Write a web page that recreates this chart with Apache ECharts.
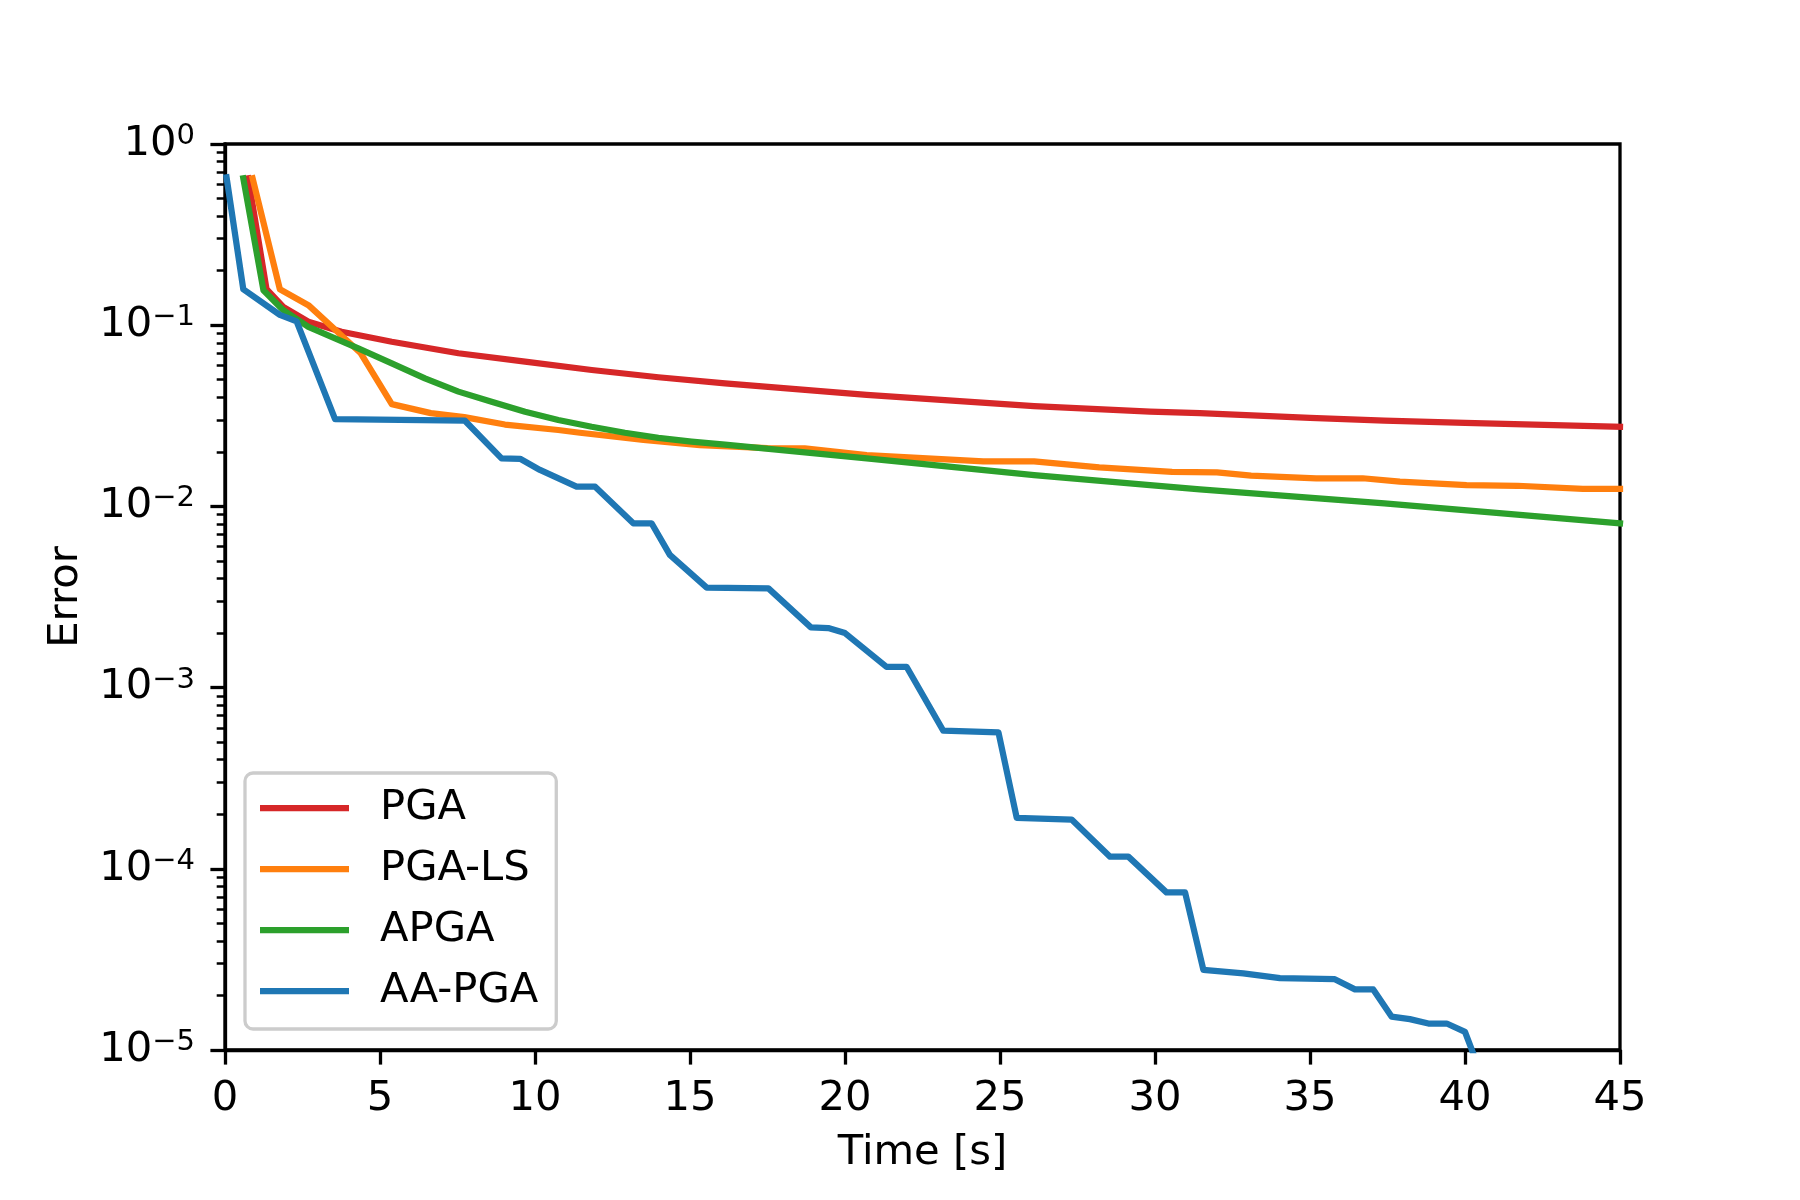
<!DOCTYPE html>
<html lang="en">
<head>
    <meta charset="UTF-8">
    <title>error vs time</title>
    <style>
        html, body { margin: 0; padding: 0; background: #fff; }
    </style>
</head>
<body>
<div id="main" style="width: 1800px;height:1200px;"></div>
</body>
<script src="https://cdn.jsdelivr.net/npm/echarts@6.0.0/dist/echarts.min.js"></script>
<script>

// values
const names = ['PGA', 'PGA-LS', 'APGA', 'AA-PGA']
const colors = ['#d62728', '#ff7f0e', '#2ca02c', '#1f77b4']

const pgaX = [0.75, 1.34, 1.88, 2.69, 3.76, 5.38, 7.53, 9.68, 11.83, 13.98, 16.13, 20.7, 26.1, 29.84, 31.45, 35, 37.4, 40, 45]
const pgaY = [0.647, 0.158, 0.126, 0.1045, 0.092, 0.081, 0.070, 0.0629, 0.0566, 0.0516, 0.0478, 0.0412, 0.0358, 0.0333, 0.0327, 0.0308, 0.0297, 0.0289, 0.0275]

const lsX = [0.89, 1.77, 2.69, 4.38, 5.38, 6.64, 7.72, 9.03, 10.75, 11.45, 13.5, 15.32, 17.5, 18.7, 20.7, 24.46, 26.1, 28.2, 30.55, 32.0, 33.1, 35.2, 36.7, 37.9, 40.05, 41.7, 43.8, 45]
const lsY = [0.647, 0.158, 0.129, 0.070, 0.0367, 0.0327, 0.0311, 0.0283, 0.0264, 0.0255, 0.0233, 0.0218, 0.0210, 0.0209, 0.0192, 0.0177, 0.0177, 0.0164, 0.0155, 0.0154, 0.0148, 0.0143, 0.0143, 0.0137, 0.0131, 0.0130, 0.0125, 0.0125]

const apgaX = [0.59, 1.24, 1.88, 2.69, 3.55, 4.3, 5.38, 6.45, 7.53, 8.6, 9.68, 10.75, 11.83, 12.9, 13.98, 15.05, 16.13, 20.7, 26.1, 29.84, 31.45, 37.4, 45]
const apgaY = [0.647, 0.156, 0.121, 0.098, 0.0847, 0.0745, 0.0616, 0.0509, 0.043, 0.0378, 0.0333, 0.030, 0.0275, 0.0255, 0.0239, 0.0228, 0.0219, 0.0184, 0.0149, 0.0131, 0.0124, 0.0104, 0.00807]

const aaX = [0.05, 0.59, 1.77, 2.31, 3.55, 7.74, 8.92, 9.52, 10.16, 11.34, 11.94, 13.17, 13.76, 14.35, 15.54, 17.53, 18.9, 19.46, 20.0, 21.34, 21.99, 23.17, 24.95, 25.54, 27.31, 28.55, 29.14, 30.37, 30.97, 31.56, 32.85, 34.03, 35.8, 36.45, 37.04, 37.63, 38.22, 38.82, 39.41, 40.0, 40.5]
const aaY = [0.655, 0.158, 0.114, 0.105, 0.0303, 0.0297, 0.0184, 0.0183, 0.0159, 0.01285, 0.01285, 0.00807, 0.00807, 0.0054, 0.00356, 0.00353, 0.00215, 0.00213, 0.002, 0.0013, 0.0013, 0.000578, 0.000566, 0.000191, 0.000187, 0.0001167, 0.0001167, 7.41e-5, 7.41e-5, 2.77e-5, 2.65e-5, 2.49e-5, 2.46e-5, 2.16e-5, 2.16e-5, 1.53e-5, 1.48e-5, 1.40e-5, 1.40e-5, 1.26e-5, 7.5e-6]

const xTicks = [0, 5, 10, 15, 20, 25, 30, 35, 40, 45]

const FONT = 'DejaVu Sans'
const FS = 41.7

let chartDom = document.getElementById('main');
let myChart = echarts.init(chartDom);
let option;

function pairs(xs, ys) {
    return xs.map((x, i) => [x, ys[i]])
}

// minor ticks of the log axis (2..9 of every decade)
let minorTicks = []
for (let k = -5; k < 0; k++) {
    for (let m = 2; m <= 9; m++) {
        minorTicks.push(m * Math.pow(10, k))
    }
}

function supLabel(value) {
    let e = Math.round(Math.log10(value))
    let s = e < 0 ? '\u2212' + (-e) : '' + e
    return '{b|10}{s|' + s + '}'
}

let allX = [pgaX, lsX, apgaX, aaX]
let allY = [pgaY, lsY, apgaY, aaY]

let series = names.map((name, i) => ({
    name: name,
    type: 'line',
    data: pairs(allX[i], allY[i]),
    showSymbol: false,
    symbol: 'none',
    clip: true,
    lineStyle: { color: colors[i], width: 6.25, cap: 'square', join: 'round' },
    itemStyle: { color: colors[i] },
    z: 2 + i
}))

option = {
    animation: false,
    backgroundColor: '#ffffff',
    textStyle: { fontFamily: FONT },
    grid: {
        left: 225, right: 180, top: 144, bottom: 150,
        show: true, borderColor: '#000', borderWidth: 3.3, backgroundColor: 'transparent'
    },
    legend: {
        data: names,
        orient: 'vertical',
        left: 245,
        top: 773,
        icon: 'rect',
        itemWidth: 89,
        itemHeight: 6.25,
        itemGap: 19,
        padding: [14, 18, 17, 15],
        backgroundColor: 'rgba(255,255,255,0.8)',
        borderColor: '#cccccc',
        borderWidth: 3.3,
        borderRadius: 8,
        textStyle: {
            fontFamily: FONT, fontSize: FS, color: '#000', lineHeight: 42,
            padding: [0, 0, 0, 26]
        }
    },
    xAxis: {
        type: 'value',
        min: 0,
        max: 45,
        interval: 5,
        name: 'Time [s]',
        nameLocation: 'middle',
        nameGap: 82,
        nameTextStyle: { fontFamily: FONT, fontSize: FS, color: '#000' },
        axisLine: { show: true, lineStyle: { color: '#000', width: 3.3 } },
        axisTick: { show: true, inside: false, length: 14.6, lineStyle: { color: '#000', width: 3.3 } },
        axisLabel: { fontFamily: FONT, fontSize: FS, color: '#000', margin: 28,
            customValues: xTicks },
        splitLine: { show: false }
    },
    yAxis: [
        {
            type: 'log',
            logBase: 10,
            min: 1e-5,
            max: 1,
            interval: 1,
            name: 'Error',
            nameLocation: 'middle',
            nameGap: 138,
            nameTextStyle: { fontFamily: FONT, fontSize: FS, color: '#000' },
            axisLine: { show: true, lineStyle: { color: '#000', width: 3.3 } },
            axisTick: { show: true, inside: false, length: 14.6, lineStyle: { color: '#000', width: 3.3 } },
            axisLabel: {
                margin: 30,
                formatter: supLabel,
                rich: {
                    b: { fontFamily: FONT, fontSize: FS, color: '#000', lineHeight: 44 },
                    s: { fontFamily: FONT, fontSize: 29, color: '#000', lineHeight: 44, verticalAlign: 'top', padding: [0, 0, 20, 0] }
                }
            },
            splitLine: { show: false }
        },
        {
            type: 'log',
            logBase: 10,
            min: 1e-5,
            max: 1,
            position: 'left',
            axisLine: { show: false },
            axisLabel: { show: false },
            axisTick: {
                show: true, inside: false, length: 8.3,
                customValues: minorTicks,
                lineStyle: { color: '#000', width: 2.5 }
            },
            splitLine: { show: false }
        }
    ],
    series: series
}

option && myChart.setOption(option);

</script>
</html>
